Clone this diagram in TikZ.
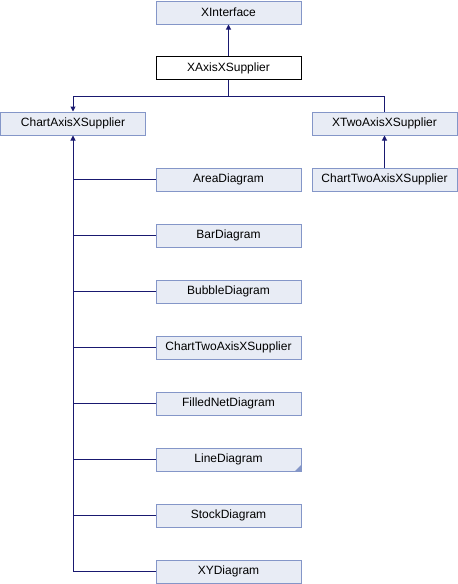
\documentclass[tikz,border=0pt]{standalone}
\usepackage{fontspec}
\setmainfont{Liberation Sans}
\usetikzlibrary{arrows.meta}
\definecolor{boxfill}{HTML}{E8ECF5}
\definecolor{boxdraw}{HTML}{8496C8}
\definecolor{edge}{HTML}{191970}
\begin{document}
\begin{tikzpicture}[x=1pt,y=-1pt,
  cls/.style={draw=boxdraw,fill=boxfill,line width=1pt,minimum width=145pt,minimum height=23pt,inner sep=0pt,font=\fontsize{12}{14}\selectfont},
  cur/.style={cls,draw=black,fill=white},
  inh/.style={edge,line width=1pt,-{Triangle[length=5pt,width=5pt]}},
  ln/.style={edge,line width=1pt}]
\useasboundingbox (0,0) rectangle (458,584);
\node[cls] (xi) at (228.5,12.5) {XInterface};
\node[cur] (xa) at (228.5,68) {XAxisXSupplier};
\node[cls] (ca) at (73,123.5) {ChartAxisXSupplier};
\node[cls] (xt) at (384.5,123.5) {XTwoAxisXSupplier};
\node[cls] (ct2) at (384.5,179.5) {ChartTwoAxisXSupplier};
\node[cls] (ar) at (228.5,179.5) {AreaDiagram};
\node[cls] (ba) at (228.5,235.5) {BarDiagram};
\node[cls] (bu) at (228.5,291.5) {BubbleDiagram};
\node[cls] (ct) at (228.5,347.5) {ChartTwoAxisXSupplier};
\node[cls] (fn) at (228.5,403.5) {FilledNetDiagram};
\node[cls] (li) at (228.5,459.5) {LineDiagram};
\node[cls] (st) at (228.5,515.5) {StockDiagram};
\node[cls] (xy) at (228.5,571.5) {XYDiagram};
\fill[boxdraw] ([xshift=-0.5pt,yshift=0.5pt]li.south east) -- ++(0,-6) -- ++(-6,6) -- cycle;
\draw[inh] (xa.north) -- (xi.south);
\coordinate (j) at (228.5,96);
\draw[ln] (j) -- (xa.south);
\draw[inh] (j) -| (ca.north);
\draw[ln] (j) -| (xt.north);
\draw[inh] (ct2.north) -- (xt.south);
\coordinate (b) at (73,571.5);
\draw[inh] (b) -- (ca.south);
\foreach \n in {ar,ba,bu,ct,fn,li,st,xy}
  \draw[ln] (\n.west) -- (73,0 |- \n.west);
\end{tikzpicture}
\end{document}
